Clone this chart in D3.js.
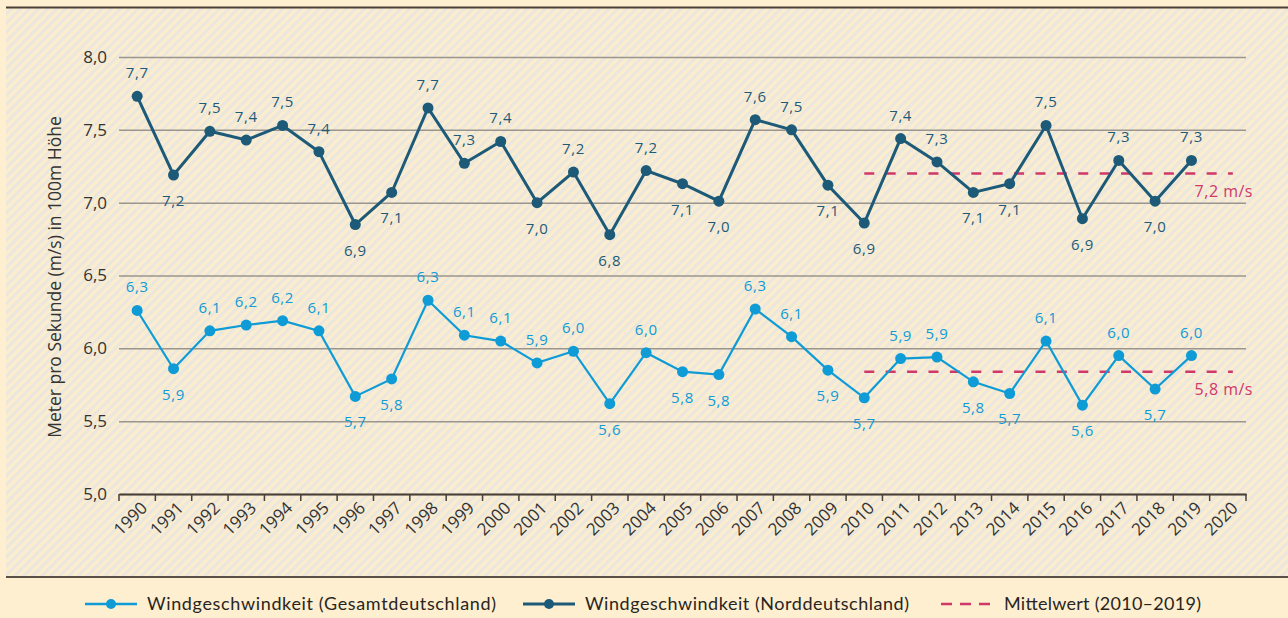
<!DOCTYPE html>
<html lang="de">
<head>
<meta charset="utf-8">
<title>Windgeschwindigkeit</title>
<script src="https://d3js.org/d3.v7.min.js"></script>
<style>
  body { margin: 0; background: #fdefd0; }
  svg { display: block; }
</style>
</head>
<body>
<script>
// Jahre und Messwerte (m/s in 100 m Höhe)
var years = d3.range(1990, 2021);
var dataYears = d3.range(1990, 2020);
var nord = [7.73, 7.19, 7.49, 7.43, 7.53, 7.35, 6.85, 7.07, 7.65, 7.27,
            7.42, 7.00, 7.21, 6.78, 7.22, 7.13, 7.01, 7.57, 7.50, 7.12,
            6.86, 7.44, 7.28, 7.07, 7.13, 7.53, 6.89, 7.29, 7.01, 7.29];
var nordLabels = ["7,7","7,2","7,5","7,4","7,5","7,4","6,9","7,1","7,7","7,3",
                  "7,4","7,0","7,2","6,8","7,2","7,1","7,0","7,6","7,5","7,1",
                  "6,9","7,4","7,3","7,1","7,1","7,5","6,9","7,3","7,0","7,3"];
var gesamt = [6.26, 5.86, 6.12, 6.16, 6.19, 6.12, 5.67, 5.79, 6.33, 6.09,
              6.05, 5.90, 5.98, 5.62, 5.97, 5.84, 5.82, 6.27, 6.08, 5.85,
              5.66, 5.93, 5.94, 5.77, 5.69, 6.05, 5.61, 5.95, 5.72, 5.95];
var gesamtLabels = ["6,3","5,9","6,1","6,2","6,2","6,1","5,7","5,8","6,3","6,1",
                    "6,1","5,9","6,0","5,6","6,0","5,8","5,8","6,3","6,1","5,9",
                    "5,7","5,9","5,9","5,8","5,7","6,1","5,6","6,0","5,7","6,0"];
// Beschriftung über (1) oder unter (0) dem Punkt
var nordPos = [1,0,1,1,1,1,0,0,1,1, 1,0,1,0,1,0,0,1,1,0, 0,1,1,0,0,1,0,1,0,1];
var gesamtPos = [1,0,1,1,1,1,0,0,1,1, 1,1,1,0,1,0,0,1,1,0, 0,1,1,0,0,1,0,1,0,1];
var meanYears = [2010, 2020];
var meanNord = 7.2, meanGesamt = 5.84;
var meanLabels = ["7,2 m/s", "5,8 m/s"];
var yTicks = [5.0, 5.5, 6.0, 6.5, 7.0, 7.5, 8.0];

var cLight = "#0e9bd6", cDark = "#1d5a78", cMean = "#d0386a", cText = "#333";
var width = 1288, height = 618;
var fmt = function(v) { return d3.format(".1f")(v).replace(".", ","); };

var svg = d3.select("body").append("svg")
    .attr("width", width).attr("height", height)
    .attr("font-family", "Open Sans, sans-serif");

// Schraffur
var pat = svg.append("defs").append("pattern")
    .attr("id", "hatch").attr("patternUnits", "userSpaceOnUse")
    .attr("width", 6.4).attr("height", 6.4)
    .attr("patternTransform", "rotate(45)");
pat.append("rect").attr("width", 6.4).attr("height", 6.4).attr("fill", "#fbedcd");
pat.append("rect").attr("width", 3).attr("height", 6.4).attr("fill", "#ebe7df");

svg.append("rect").attr("x", 0).attr("y", 0).attr("width", width).attr("height", height).attr("fill", "#fdefd0");
svg.append("rect").attr("x", 6).attr("y", 8).attr("width", width - 6).attr("height", 569).attr("fill", "url(#hatch)");
svg.append("line").attr("x1", 6).attr("x2", width).attr("y1", 7.5).attr("y2", 7.5)
    .attr("stroke", "#4a4038").attr("stroke-width", 2);
svg.append("line").attr("x1", 6).attr("x2", width).attr("y1", 577).attr("y2", 577)
    .attr("stroke", "#5a5048").attr("stroke-width", 2);

var x = d3.scaleBand().domain(years).range([119, 1246]);
var cx = function(yr) { return x(yr) + x.bandwidth() / 2; };
var y = d3.scaleLinear().domain([5, 8]).range([494, 57]);

// Gitterlinien + y-Achse
var gy = svg.append("g").attr("transform", "translate(119,0)")
    .call(d3.axisLeft(y).tickValues(yTicks).tickSize(-(1246 - 119)).tickPadding(12).tickFormat(fmt));
gy.attr("font-family", "Open Sans, sans-serif");
gy.select(".domain").remove();
gy.selectAll(".tick line").attr("stroke", "#9a958e").attr("stroke-width", 1.5);
gy.selectAll(".tick text").attr("font-size", 17).attr("fill", cText);

// x-Achse
var gx = svg.append("g").attr("transform", "translate(0,494)")
    .call(d3.axisBottom(x).tickSize(0).tickFormat(d3.format("d")));
gx.attr("font-family", "Open Sans, sans-serif");
gx.select(".domain").attr("stroke", "#4a4038").attr("stroke-width", 2);
gx.selectAll(".tick text")
    .attr("font-size", 17).attr("fill", cText)
    .attr("text-anchor", "end").attr("dy", 0)
    .attr("transform", "translate(9,13) rotate(-45)");
gx.selectAll(".edge").data(years.concat([2021])).enter().append("line")
    .attr("x1", function(d) { return d === 2021 ? 1246 : x(d); })
    .attr("x2", function(d) { return d === 2021 ? 1246 : x(d); })
    .attr("y1", 0).attr("y2", 7).attr("stroke", "#4a4038").attr("stroke-width", 1.5);

svg.append("text").attr("transform", "translate(61,277) rotate(-90)")
    .attr("text-anchor", "middle").attr("font-size", 17.5).attr("fill", cText)
    .text("Meter pro Sekunde (m/s) in 100m Höhe");

// Mittelwerte
[[meanNord, meanLabels[0]], [meanGesamt, meanLabels[1]]].forEach(function(m) {
  svg.append("line").attr("x1", cx(meanYears[0])).attr("x2", cx(meanYears[1]) + 5)
      .attr("y1", y(m[0])).attr("y2", y(m[0]))
      .attr("stroke", cMean).attr("stroke-width", 2.5).attr("stroke-dasharray", "10,11.4");
  svg.append("text").attr("x", 1253).attr("y", y(m[0]) + 23).attr("text-anchor", "end")
      .attr("font-size", 16).attr("letter-spacing", 0.5).attr("fill", cMean).text(m[1]);
});

function series(vals, labels, pos, color, w) {
  var pts = vals.map(function(v, i) { return [cx(dataYears[i]), y(v)]; });
  svg.append("path").attr("d", d3.line()(pts)).attr("fill", "none")
      .attr("stroke", color).attr("stroke-width", w);
  svg.selectAll(null).data(pts).enter().append("circle")
      .attr("cx", function(d) { return d[0]; }).attr("cy", function(d) { return d[1]; })
      .attr("r", 5.5).attr("fill", color);
  svg.selectAll(null).data(labels).enter().append("text")
      .attr("x", function(d, i) { return pts[i][0]; })
      .attr("y", function(d, i) { return pos[i] ? pts[i][1] - 18 : pts[i][1] + 31; })
      .attr("text-anchor", "middle").attr("font-size", 15).attr("letter-spacing", 0.6)
      .attr("fill", color).text(function(d) { return d; });
}
series(gesamt, gesamtLabels, gesamtPos, cLight, 2.2);
series(nord, nordLabels, nordPos, cDark, 3);

// Legende
var lg = svg.append("g").attr("font-size", 18).attr("font-family", "Lato, sans-serif");
[[85, cLight, 2.5, "Windgeschwindkeit (Gesamtdeutschland)", 349],
 [523, cDark, 3, "Windgeschwindkeit (Norddeutschland)", 324]].forEach(function(it) {
  lg.append("line").attr("x1", it[0]).attr("x2", it[0] + 52).attr("y1", 604).attr("y2", 604)
      .attr("stroke", it[1]).attr("stroke-width", it[2]);
  lg.append("circle").attr("cx", it[0] + 26).attr("cy", 604).attr("r", 5).attr("fill", it[1]);
  lg.append("text").attr("x", it[0] + 62).attr("y", 610).attr("fill", "#2a2520")
      .attr("textLength", it[4]).text(it[3]);
});
lg.append("line").attr("x1", 941).attr("x2", 993).attr("y1", 604).attr("y2", 604)
    .attr("stroke", cMean).attr("stroke-width", 2.5).attr("stroke-dasharray", "11,8");
lg.append("text").attr("x", 1004).attr("y", 610).attr("fill", "#2a2520")
    .attr("textLength", 197).text("Mittelwert (2010–2019)");
</script>
</body>
</html>
